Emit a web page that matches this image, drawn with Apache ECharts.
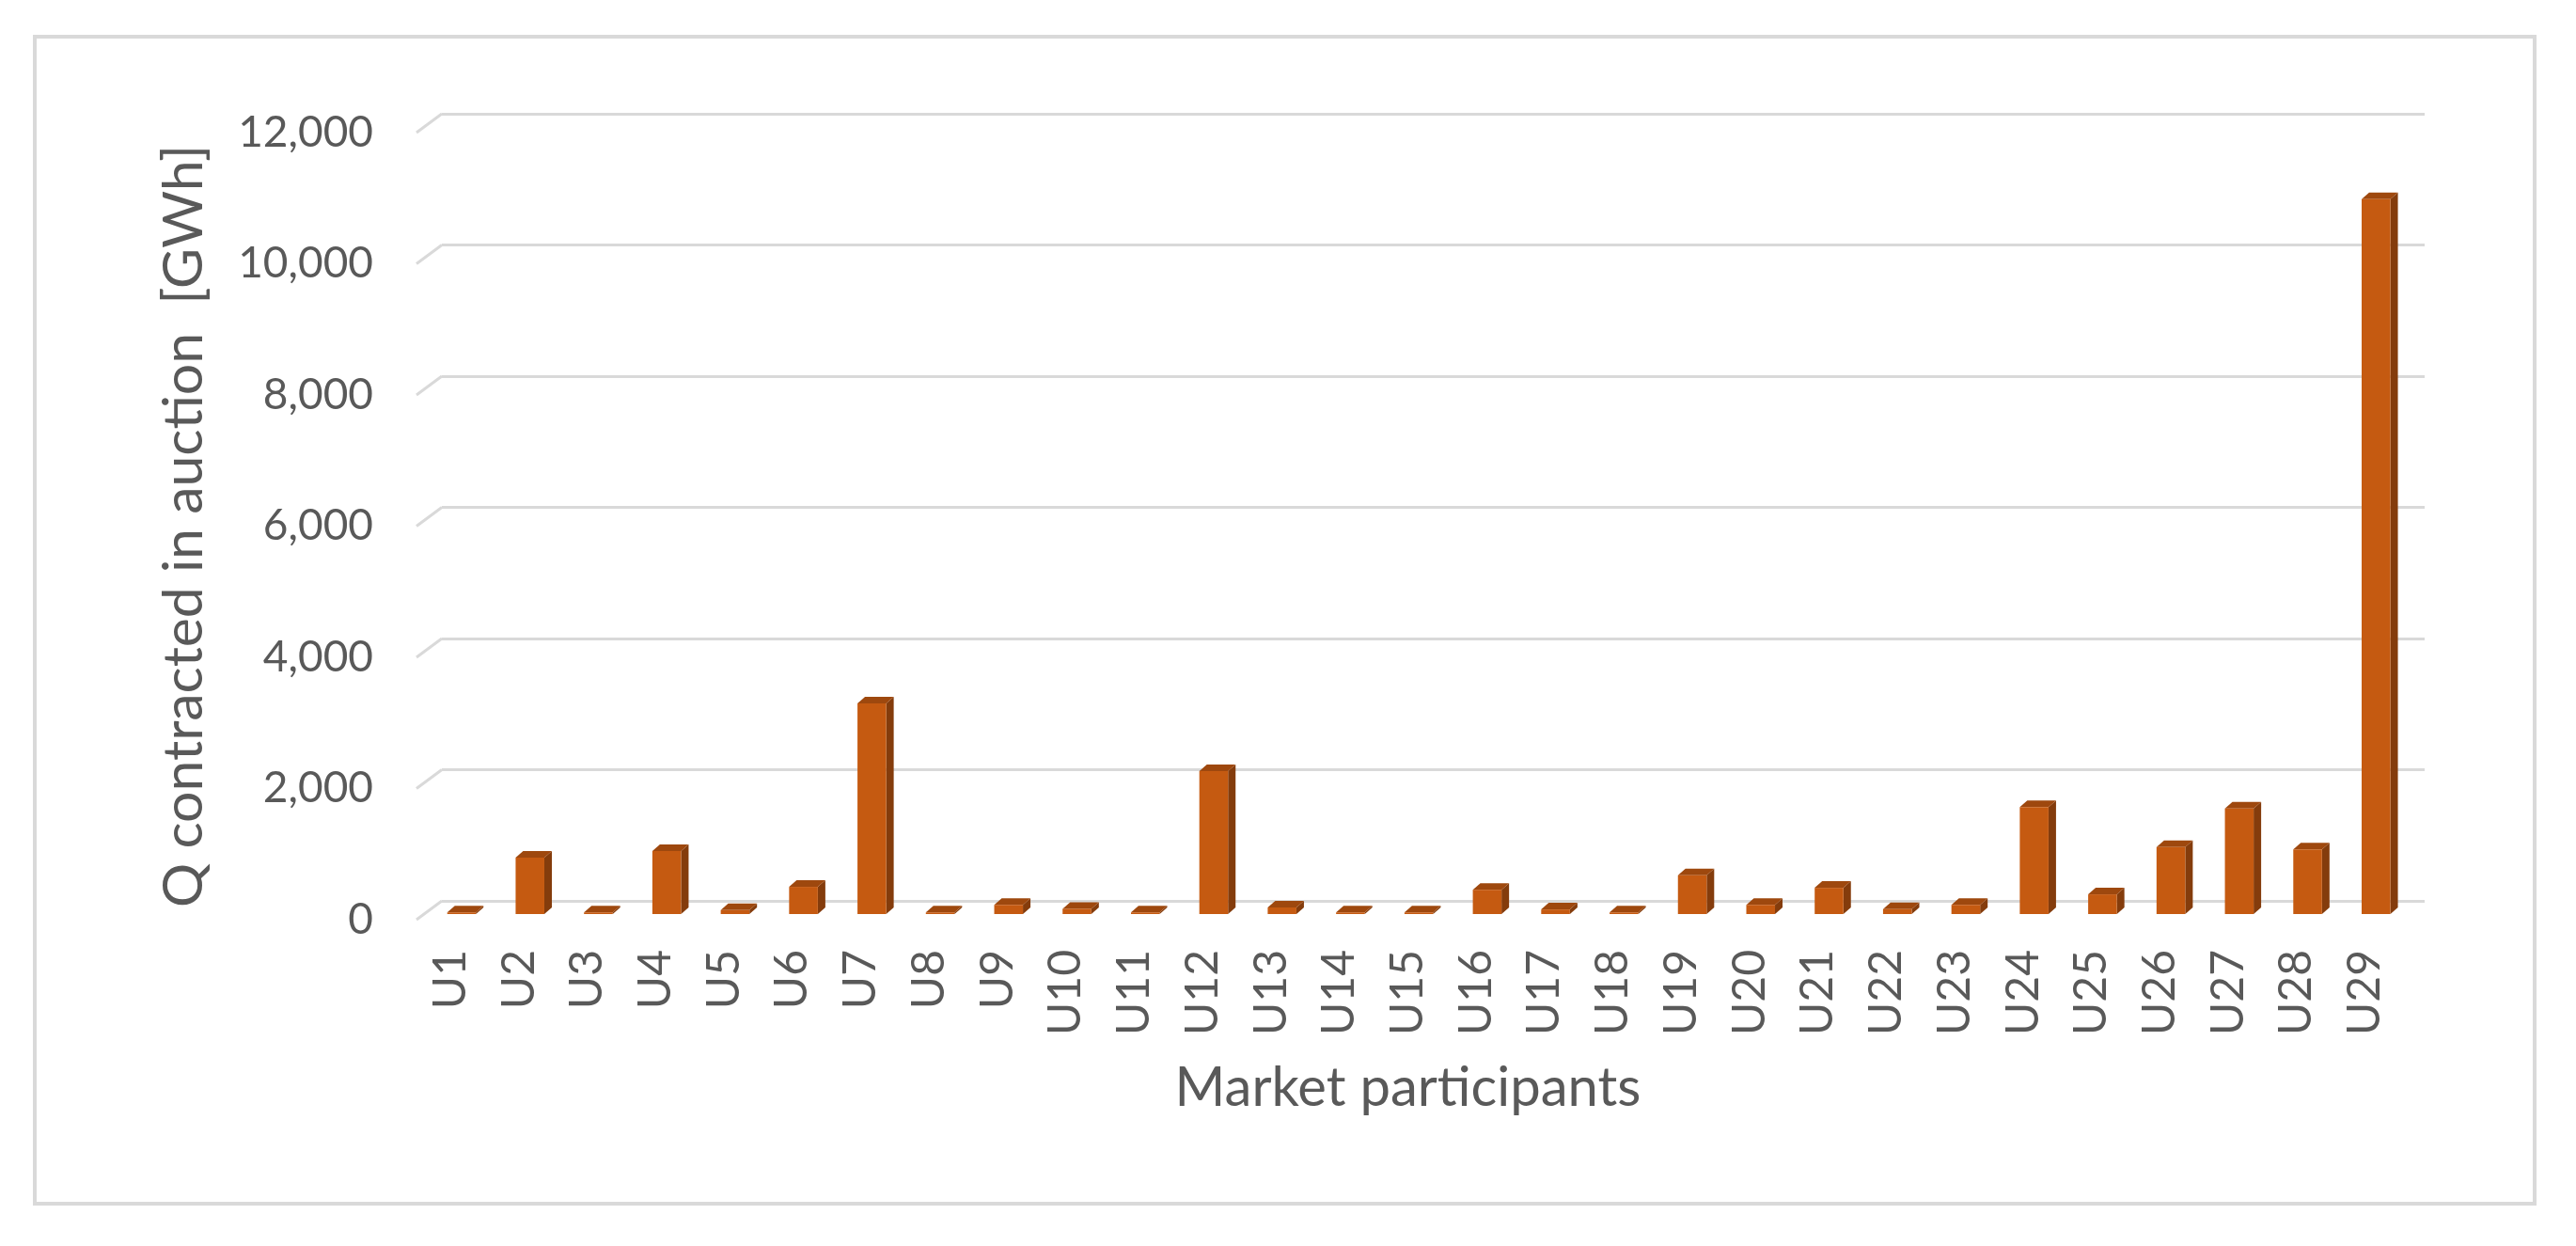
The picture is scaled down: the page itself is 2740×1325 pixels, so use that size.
<!DOCTYPE html>
<html>
<head>
<meta charset="utf-8">
<title>Q contracted in auction</title>
<script src="https://cdn.jsdelivr.net/npm/echarts@6/dist/echarts.min.js"></script>
<style>
  html, body { margin: 0; padding: 0; background: #fff; }
  #chart { width: 2740px; height: 1325px; }
</style>
</head>
<body>
<div id="chart"></div>
<script>
// data
const participants = ['U1', 'U2', 'U3', 'U4', 'U5', 'U6', 'U7', 'U8', 'U9', 'U10',
  'U11', 'U12', 'U13', 'U14', 'U15', 'U16', 'U17', 'U18', 'U19', 'U20',
  'U21', 'U22', 'U23', 'U24', 'U25', 'U26', 'U27', 'U28', 'U29'];
const contracted = [25, 860, 25, 960, 60, 415, 3210, 25, 140, 80,
  25, 2180, 100, 25, 25, 370, 70, 25, 590, 140,
  400, 75, 140, 1630, 300, 1020, 1610, 985, 10900];
const yTicks = [0, 2000, 4000, 6000, 8000, 10000, 12000];

const textColor = '#595959';
const gridColor = '#d9d9d9';
// 3D look: back wall offset from the front plane
const wallDx = 27, wallDy = -20;

const chart = echarts.init(document.getElementById('chart'));

const option = {
  animation: false,
  backgroundColor: '#fff',
  textStyle: { fontFamily: 'Lato', color: textColor },
  graphic: [{
    type: 'rect',
    shape: { x: 37, y: 39, width: 2659, height: 1241 },
    style: { fill: 'none', stroke: gridColor, lineWidth: 4 },
    silent: true
  }],
  grid: [
    // front plane: labels and bars
    { left: 443, top: 141, width: 2109, height: 837 },
    // back wall: gridlines
    { left: 443 + wallDx, top: 141 + wallDy, width: 2109, height: 837 }
  ],
  xAxis: [
    {
      type: 'category',
      gridIndex: 0,
      data: participants,
      axisLine: { show: false },
      axisTick: { show: false },
      axisLabel: { rotate: 90, interval: 0, margin: 32, fontSize: 48, color: textColor },
      name: 'Market participants',
      nameLocation: 'middle',
      nameGap: 150,
      nameTextStyle: { fontSize: 58, color: textColor }
    },
    {
      type: 'category',
      gridIndex: 1,
      data: participants,
      show: false
    }
  ],
  yAxis: [
    {
      type: 'value',
      gridIndex: 0,
      min: yTicks[0],
      max: yTicks[yTicks.length - 1],
      interval: yTicks[1] - yTicks[0],
      axisLine: { show: false },
      axisTick: { show: false },
      splitLine: { show: false },
      axisLabel: {
        margin: 46,
        fontSize: 46,
        color: textColor,
        formatter: v => v.toLocaleString('en-US')
      },
      name: 'Q contracted in auction  [GWh]',
      nameLocation: 'middle',
      nameGap: 218,
      nameTextStyle: { fontSize: 59, color: textColor }
    },
    {
      type: 'value',
      gridIndex: 1,
      min: yTicks[0],
      max: yTicks[yTicks.length - 1],
      interval: yTicks[1] - yTicks[0],
      axisLine: { show: false },
      axisTick: { show: false },
      axisLabel: { show: false },
      splitLine: { show: true, lineStyle: { color: gridColor, width: 3 } }
    }
  ],
  series: [
    {
      // slanted side-wall edge joining each gridline to the front plane
      type: 'custom',
      xAxisIndex: 0,
      yAxisIndex: 0,
      silent: true,
      z: 1,
      data: yTicks.map(v => [0, v]),
      renderItem: function (params, api) {
        const p = api.coord([0, api.value(1)]);
        const band = api.size([1, 0])[0];
        const x = p[0] - band / 2;
        return {
          type: 'line',
          shape: { x1: x, y1: p[1], x2: x + wallDx, y2: p[1] + wallDy },
          style: { stroke: gridColor, lineWidth: 3 }
        };
      }
    },
    {
      name: 'Q contracted',
      type: 'custom',
      xAxisIndex: 0,
      yAxisIndex: 0,
      z: 3,
      data: contracted.map((v, i) => [i, v]),
      renderItem: function (params, api) {
        const i = api.value(0);
        const base = api.coord([i, 0]);
        const top = api.coord([i, api.value(1)]);
        const band = api.size([1, 0])[0];
        const w = band * 0.42;
        const cx = base[0] + band * 0.16;
        const x0 = cx - w / 2, x1 = cx + w / 2;
        const yb = base[1] - 6, yt = top[1] - 6;
        const dx = 8, dy = -7;
        return {
          type: 'group',
          children: [
            {
              type: 'polygon',
              shape: { points: [[x1, yb], [x1 + dx, yb + dy], [x1 + dx, yt + dy], [x1, yt]] },
              style: { fill: '#843C0C' }
            },
            {
              type: 'polygon',
              shape: { points: [[x0, yt], [x1, yt], [x1 + dx, yt + dy], [x0 + dx, yt + dy]] },
              style: { fill: '#9E480E' }
            },
            {
              type: 'rect',
              shape: { x: x0, y: yt, width: w, height: yb - yt },
              style: { fill: '#C55A11' }
            }
          ]
        };
      }
    }
  ]
};

chart.setOption(option);
</script>
</body>
</html>
